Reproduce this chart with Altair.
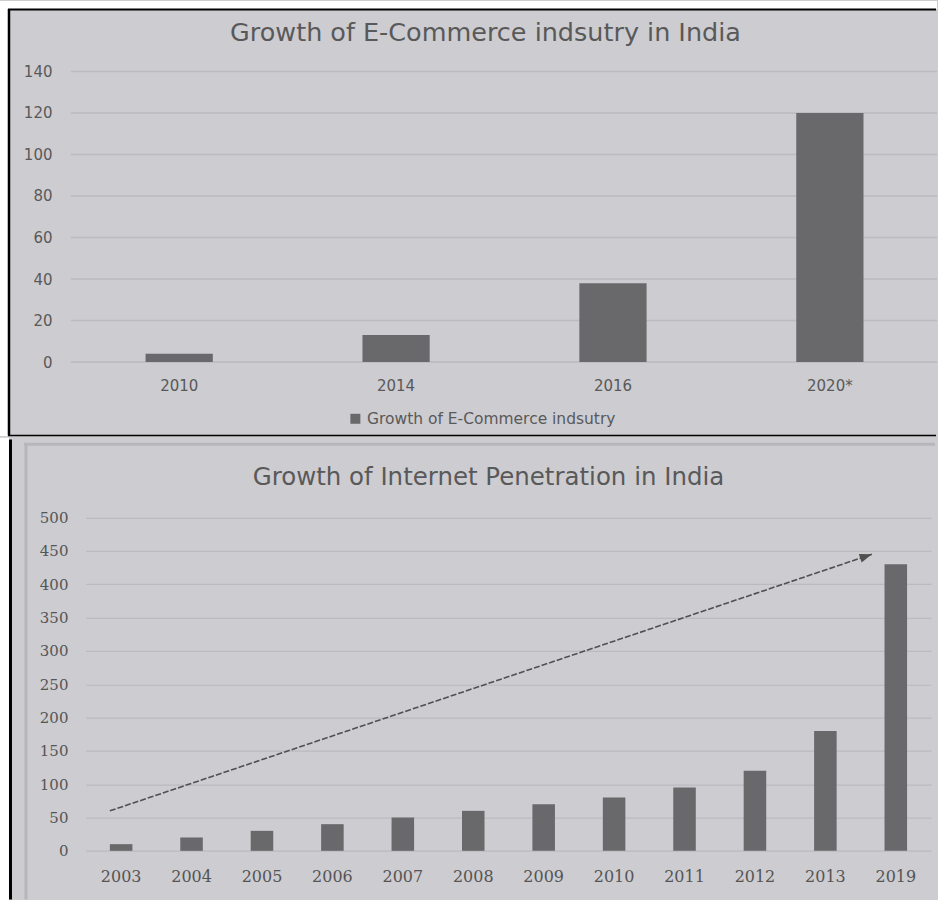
import altair as alt
import pandas as pd

# ---------------- data ----------------
ecom_years = ["2010", "2014", "2016", "2020*"]
ecom_values = [4, 13, 38, 120]
ecom_series = "Growth of E-Commerce indsutry"
ecom_title = "Growth of E-Commerce indsutry in India"

net_years = ["2003", "2004", "2005", "2006", "2007", "2008",
             "2009", "2010", "2011", "2012", "2013", "2019"]
net_values = [10, 20, 30, 40, 50, 60, 70, 80, 95, 120, 180, 430]
net_title = "Growth of Internet Penetration in India"

# trend arrow (x in category steps from the left edge, y in data units)
arrow_x = [0.34, 11.16]
arrow_y = [60, 445]

ecom_ticks = [0, 20, 40, 60, 80, 100, 120, 140]
net_ticks = [0, 50, 100, 150, 200, 250, 300, 350, 400, 450, 500]

# ---------------- style ----------------
BG = "#CDCCD1"
BAR = "#69696B"
GRID = "#BBBAC0"
TEXT = "#595959"
TEXT2 = "#555555"

# both panels share the same plot origin x (86) and top extent (70.5) in the concat
W1, H1 = 852, 291
W2, H2 = 846, 343.25
NET_DOMAIN_TOP = 500 * 343.25 / 333.5   # leaves headroom above the 500 line

ONE = alt.Data(values=[{}])


def deco_rule(x, x2, y, y2, color, width):
    return alt.Chart(ONE).mark_rule(color=color, strokeWidth=width).encode(
        x=alt.value(x), x2=alt.value(x2), y=alt.value(y), y2=alt.value(y2))


def deco_rect(x, x2, y, y2, color):
    return alt.Chart(ONE).mark_rect(color=color).encode(
        x=alt.value(x), x2=alt.value(x2), y=alt.value(y), y2=alt.value(y2))


# ---------------- top chart ----------------
df1 = pd.DataFrame({"year": ecom_years, "value": ecom_values,
                    "series": [ecom_series] * len(ecom_years)})
df1_ticks = pd.DataFrame({"value": ecom_ticks})

y1enc = alt.Y("value:Q", title=None,
              scale=alt.Scale(domain=[0, 140], nice=False),
              axis=alt.Axis(values=ecom_ticks, labelFont="DejaVu Sans", labelFontSize=15,
                            labelColor=TEXT, labelPadding=34, ticks=False, tickSize=0,
                            domain=False, grid=False))

grid1 = alt.Chart(df1_ticks).mark_rule(color=GRID, strokeWidth=1.5).encode(
    y=y1enc, x=alt.value(-15), x2=alt.value(W1))

bars1 = alt.Chart(df1).mark_bar(color=BAR).encode(
    x=alt.X("year:N", sort=ecom_years, title=None,
            scale=alt.Scale(paddingInner=0.69, paddingOuter=0.307, align=0.448),
            axis=alt.Axis(labelAngle=0, labelFont="DejaVu Sans", labelFontSize=15,
                          labelColor=TEXT, labelPadding=16, ticks=False, tickSize=0,
                          domain=False, grid=False)),
    y=y1enc,
    color=alt.Color("series:N", scale=alt.Scale(range=[BAR]),
                    legend=alt.Legend(title=None, orient="none", legendX=262, legendY=340,
                                      symbolType="square", symbolSize=100,
                                      symbolStrokeWidth=0, padding=0, labelLimit=600,
                                      labelFont="DejaVu Sans", labelFontSize=15.5,
                                      labelColor=TEXT)),
)

top = alt.layer(
    deco_rect(-86, W1, -70.5, -62.5, "white"),
    deco_rect(-86, -78, -70.5, 365, "white"),
    deco_rule(-78, W1 - 1, -62, -62, "black", 2),
    deco_rule(-77, -77, -62.5, 364.5, "black", 2.5),
    deco_rule(-78, W1 - 1, 364.5, 364.5, "black", 1.5),
    grid1,
    bars1,
).properties(
    width=W1, height=H1,
    title=alt.TitleParams(text=ecom_title, font="DejaVu Sans", fontSize=25.5,
                          fontWeight="normal", color=TEXT, anchor="middle",
                          dx=-26, offset=-46),
)

# ---------------- bottom chart ----------------
df2 = pd.DataFrame({"year": net_years, "value": net_values})
df3 = pd.DataFrame({"ax": arrow_x, "value": arrow_y})
df4 = df3.iloc[[-1]]

y2enc = alt.Y("value:Q", title=None,
              scale=alt.Scale(domain=[0, NET_DOMAIN_TOP], nice=False),
              axis=alt.Axis(values=net_ticks, labelFont="DejaVu Serif", labelFontSize=15,
                            labelColor=TEXT2, labelPadding=18, ticks=False, tickSize=0,
                            domain=False, gridColor=GRID, gridWidth=1.2))

bars2 = alt.Chart(df2).mark_bar(color=BAR).encode(
    x=alt.X("year:N", sort=net_years, title=None,
            scale=alt.Scale(paddingInner=0.68, paddingOuter=0.34),
            axis=alt.Axis(labelAngle=0, labelFont="DejaVu Serif", labelFontSize=16,
                          labelColor=TEXT2, labelPadding=18, ticks=False, tickSize=0,
                          domain=False, grid=False)),
    y=y2enc,
)

ax_enc = alt.X("ax:Q", scale=alt.Scale(domain=[0, len(net_years)], nice=False, zero=False),
               axis=None, title=None)

arrow_line = alt.Chart(df3).mark_line(color="#505050", strokeWidth=1.6,
                                      strokeDash=[6, 2]).encode(x=ax_enc, y=y2enc)
arrow_head = alt.Chart(df4).mark_point(
    shape="M0,0 L-1,-0.36 L-1,0.36 Z", filled=True, color="#505050",
    opacity=1, size=600, angle=341.4).encode(x=ax_enc, y=y2enc)

bottom = alt.layer(
    deco_rect(-86, -77, -70.25, 393.75, "white"),
    deco_rule(-75.5, -75.5, -68.5, 392, "black", 3),
    deco_rule(-62, W2 + 4, -63.75, -63.75, "#B7B6BB", 3),
    deco_rule(-60, -60, -65.25, 392, "#B7B6BB", 3),
    bars2,
    arrow_line,
    arrow_head,
).resolve_scale(x="independent").properties(
    width=W2, height=H2,
    title=alt.TitleParams(text=net_title, font="DejaVu Sans", fontSize=24.5,
                          fontWeight="normal", color=TEXT, anchor="middle",
                          dx=-20, offset=-53),
)

chart = alt.concat(top, bottom, columns=1, spacing=0).resolve_scale(
    color="independent").resolve_legend(color="independent").properties(
    padding=0, background=BG).configure_view(strokeWidth=0)

chart.save("out.html", embed_options={"renderer": "svg", "actions": False})
